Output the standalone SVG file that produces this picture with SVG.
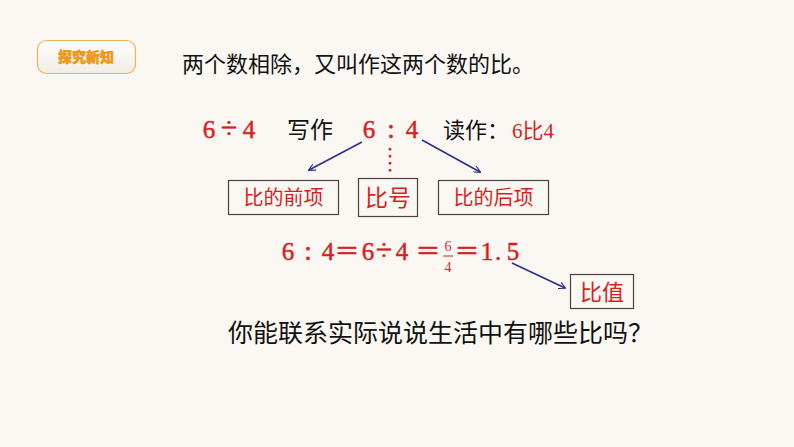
<svg xmlns="http://www.w3.org/2000/svg" width="794" height="447" viewBox="0 0 794 447">
<defs>
<linearGradient id="bg1" x1="0" y1="0" x2="0" y2="1">
<stop offset="0" stop-color="#ffffff"/>
<stop offset="1" stop-color="#f1ece4"/>
</linearGradient>
<marker id="ah" viewBox="0 0 10 10" refX="9" refY="5" markerWidth="7" markerHeight="7" orient="auto" markerUnits="userSpaceOnUse">
<path d="M0,0 L10,5 L0,10" fill="none" stroke="#2b2f8f" stroke-width="1.6"/>
</marker>
<style>
.red{fill:#d71f1f;font-family:"Liberation Serif","Noto Sans CJK SC",serif;}
.num{stroke:#d71f1f;stroke-width:0.5;}
.blk{fill:#111;font-family:"Noto Sans CJK SC",sans-serif;}
.box{fill:none;stroke:#444;stroke-width:1.2;}
.arr{stroke:#2b2f8f;stroke-width:1.6;fill:none;marker-end:url(#ah);}
</style>
</defs>
<rect width="794" height="447" fill="#fbf8f3"/>
<g id="badge">
<rect x="37.5" y="40.5" width="98" height="33" rx="9" fill="url(#bg1)" stroke="#f0b255" stroke-width="1.2"/>
<text x="86" y="62" text-anchor="middle" font-family="Noto Sans CJK SC,sans-serif" font-weight="900" font-size="14" fill="#f39a15" stroke="#e88a0a" stroke-width="0.4">探究新知</text>
</g>
<g id="title">
<text x="182" y="72" class="blk" font-size="22">两个数相除，又叫作这两个数的比。</text>
</g>
<g id="row2">
<text class="red num" font-size="25" y="138" text-anchor="middle"><tspan x="209">6</tspan><tspan x="229" font-size="30">÷</tspan><tspan x="249">4</tspan></text>
<text class="blk" x="287" y="138" font-size="23">写作</text>
<text class="red num" font-size="25" y="138" text-anchor="middle"><tspan x="369">6</tspan><tspan x="391" font-size="27">:</tspan><tspan x="412">4</tspan></text>
<text class="blk" x="443" y="138" font-size="22">读作：</text>
<text class="red" x="512" y="138" font-size="21">6比4</text>
</g>
<g id="dots">
<line x1="390" y1="148" x2="390" y2="174" stroke="#d71f1f" stroke-width="2.5" stroke-dasharray="2.5,4.5"/>
</g>
<g id="node-qianxiang">
<rect class="box" x="228.5" y="180.5" width="110" height="34"/>
<text class="red" x="283.5" y="205" font-size="20" text-anchor="middle">比的前项</text>
</g>
<g id="node-bihao">
<rect class="box" x="358.5" y="178.5" width="59" height="38"/>
<text class="red" x="388" y="206" font-size="23" text-anchor="middle">比号</text>
</g>
<g id="node-houxiang">
<rect class="box" x="438.5" y="180.5" width="110" height="34"/>
<text class="red" x="493.5" y="205" font-size="20" text-anchor="middle">比的后项</text>
</g>
<g id="row3">
<text class="red num" font-size="25" y="260" text-anchor="middle"><tspan x="288">6</tspan><tspan x="308" font-size="27">:</tspan><tspan x="328">4</tspan><tspan x="347">＝</tspan><tspan x="368">6</tspan><tspan x="384" font-size="30">÷</tspan><tspan x="402">4</tspan><tspan x="428">＝</tspan><tspan x="467">＝</tspan><tspan x="487">1</tspan><tspan x="498">.</tspan><tspan x="513">5</tspan></text>
<text class="red" font-size="14" x="448" y="251" text-anchor="middle">6</text>
<line x1="443" y1="256" x2="453" y2="256" stroke="#d71f1f" stroke-width="1"/>
<text class="red" font-size="14" x="448" y="272" text-anchor="middle">4</text>
</g>
<g id="node-bizhi">
<rect class="box" x="570.5" y="274.5" width="63" height="34"/>
<text class="red" x="602" y="300" font-size="22" text-anchor="middle">比值</text>
</g>
<g id="question">
<text class="blk" x="228" y="342" font-size="25">你能联系实际说说生活中有哪些比吗？</text>
</g>
<g id="connectors">
<line class="arr" x1="362" y1="142" x2="309" y2="170"/>
<line class="arr" x1="422" y1="140" x2="480" y2="172"/>
<line class="arr" x1="512" y1="263" x2="565" y2="288"/>
</g>
</svg>
